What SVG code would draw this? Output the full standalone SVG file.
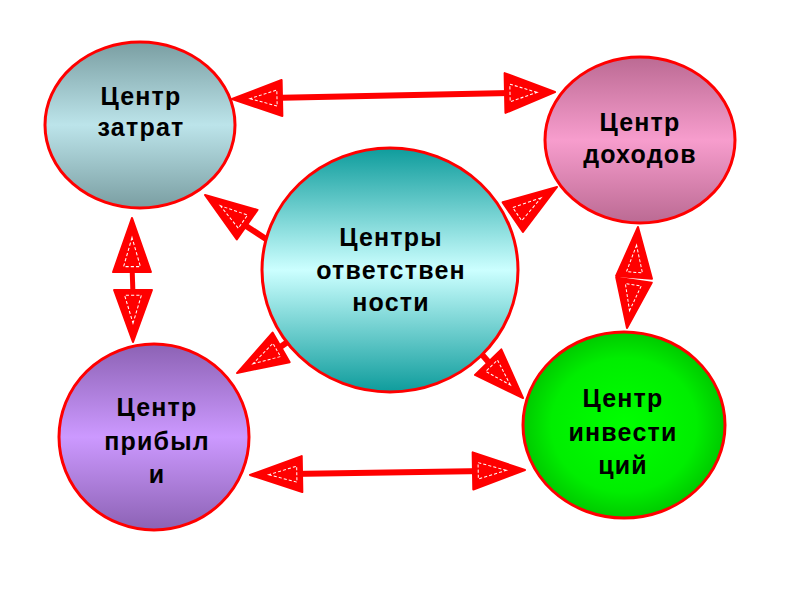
<svg xmlns="http://www.w3.org/2000/svg" xmlns:xlink="http://www.w3.org/1999/xlink" width="800" height="600" viewBox="0 0 800 600">
<style>
.node{stroke:#ff0000;stroke-width:3}
.lbl{font-family:"Liberation Sans",Arial,sans-serif;font-weight:bold;font-size:25px;letter-spacing:1.2px;fill:#000;text-anchor:middle}
.shaft{stroke:#ff0000;stroke-width:6;fill:none}
</style>
<defs>
<linearGradient id="gTL" x1="0" y1="0" x2="0" y2="1"><stop offset="0" stop-color="#7a9ea2"/><stop offset="0.5" stop-color="#bce4ea"/><stop offset="1" stop-color="#7a9ea2"/></linearGradient>
<linearGradient id="gTR" x1="0" y1="0" x2="0" y2="1"><stop offset="0" stop-color="#bb6a93"/><stop offset="0.5" stop-color="#f79dcd"/><stop offset="1" stop-color="#bb6a93"/></linearGradient>
<linearGradient id="gC" x1="0" y1="0" x2="0" y2="1"><stop offset="0" stop-color="#0e9c9c"/><stop offset="0.5" stop-color="#ccffff"/><stop offset="1" stop-color="#0e9c9c"/></linearGradient>
<linearGradient id="gBL" x1="0" y1="0" x2="0" y2="1"><stop offset="0" stop-color="#8c62b4"/><stop offset="0.5" stop-color="#cc99ff"/><stop offset="1" stop-color="#8c62b4"/></linearGradient>
<radialGradient id="gBR" cx="0.5" cy="0.5" r="0.6"><stop offset="0" stop-color="#00ff00"/><stop offset="0.6" stop-color="#00ee00"/><stop offset="1" stop-color="#00b000"/></radialGradient>
<g id="head">
<polygon points="0,0 -50,-18 -50,18" fill="#ff0000" stroke="#ff0000" stroke-width="2" stroke-linejoin="round"/>
<polygon points="-18,0 -45,-8 -45,8" fill="none" stroke="#ffffff" stroke-width="1" stroke-dasharray="3 2"/>
</g>
</defs>
<rect width="800" height="600" fill="#ffffff"/>
<g id="connectors">
<line class="shaft" x1="270" y1="98" x2="515" y2="93"/>
<use xlink:href="#head" transform="translate(232,99) rotate(178.8) scale(1,1)"/>
<use xlink:href="#head" transform="translate(555,92) rotate(-1.2) scale(1,1.1)"/>
<line class="shaft" style="stroke-width:5" x1="132" y1="265" x2="133" y2="295"/>
<use xlink:href="#head" transform="translate(132,218) rotate(-90) scale(1.08,1.05)"/>
<use xlink:href="#head" transform="translate(133,342) rotate(90) scale(1.04,1.05)"/>
<line class="shaft" x1="240" y1="222" x2="266" y2="239"/>
<use xlink:href="#head" transform="translate(205,195) rotate(-144.9) scale(1.03,1)"/>
<line class="shaft" x1="478" y1="350" x2="492" y2="366"/>
<use xlink:href="#head" transform="translate(523,398) rotate(45.8) scale(1,1.02)"/>
<line class="shaft" x1="276" y1="350" x2="289" y2="341"/>
<use xlink:href="#head" transform="translate(237,373) rotate(149.9) scale(1.02,0.95)"/>
<use xlink:href="#head" transform="translate(638,227) rotate(-85.5) scale(1.01,1)"/>
<use xlink:href="#head" transform="translate(627,328) rotate(98.3) scale(0.97,1)"/>
<use xlink:href="#head" transform="translate(557,187) rotate(-34.3) scale(1.07,1)"/>
<line class="shaft" x1="290" y1="474" x2="485" y2="471"/>
<use xlink:href="#head" transform="translate(250,475) rotate(179) scale(1.04,1)"/>
<use xlink:href="#head" transform="translate(525,470) rotate(-1) scale(1.04,1.03)"/>
</g>
<g id="node-costs">
<ellipse class="node" cx="140" cy="125" rx="95" ry="83" fill="url(#gTL)"/>
<text class="lbl" x="141" y="105">Центр</text>
<text class="lbl" x="141" y="136">затрат</text>
</g>
<g id="node-revenue">
<ellipse class="node" cx="640" cy="140" rx="95" ry="83" fill="url(#gTR)"/>
<text class="lbl" x="640" y="131">Центр</text>
<text class="lbl" x="640" y="163">доходов</text>
</g>
<g id="node-center">
<ellipse class="node" cx="390" cy="270" rx="128" ry="122" fill="url(#gC)"/>
<text class="lbl" x="391" y="246">Центры</text>
<text class="lbl" x="391" y="279">ответствен</text>
<text class="lbl" x="391" y="311">ности</text>
</g>
<g id="node-profit">
<ellipse class="node" cx="154" cy="437" rx="95" ry="93" fill="url(#gBL)"/>
<text class="lbl" x="157" y="416">Центр</text>
<text class="lbl" x="157" y="450">прибыл</text>
<text class="lbl" x="157" y="483">и</text>
</g>
<g id="node-invest">
<ellipse class="node" cx="624" cy="425" rx="101" ry="93" fill="url(#gBR)"/>
<text class="lbl" x="623" y="407">Центр</text>
<text class="lbl" x="623" y="441">инвести</text>
<text class="lbl" x="623" y="474">ций</text>
</g>
</svg>
